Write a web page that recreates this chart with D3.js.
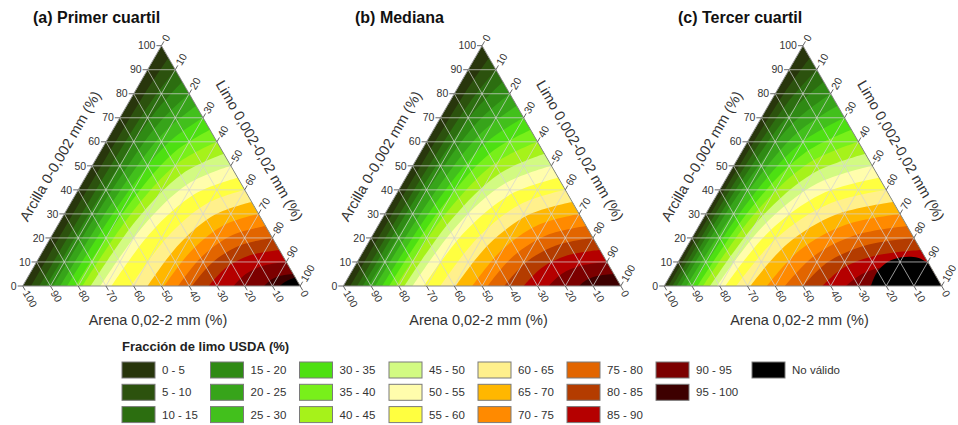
<!DOCTYPE html>
<html><head><meta charset="utf-8">
<script src="https://cdn.jsdelivr.net/npm/d3@7"></script>
<style>
body{margin:0;background:#fff;}
svg{display:block;font-family:"Liberation Sans",Arial,Helvetica,sans-serif;}
</style></head><body>
<svg id="chart" width="958" height="425"></svg>
<script>
// USDA silt fraction classes (5 % steps) and their fills
const bandLabels = ["0 - 5","5 - 10","10 - 15","15 - 20","20 - 25","25 - 30","30 - 35","35 - 40","40 - 45","45 - 50",
  "50 - 55","55 - 60","60 - 65","65 - 70","70 - 75","75 - 80","80 - 85","85 - 90","90 - 95","95 - 100"];
const bandColors = ["#28360c","#2c520e","#2c6e10","#2f8a14","#37a41a","#42c01c","#4de012","#78f01a","#a6f21a","#d2fa82",
  "#fffdac","#ffff40","#fff08c","#ffb700","#ff8a00","#e26500","#b43c00","#b50000","#7c0000","#3d0000"];
const invalidLabel = "No válido";
const invalidColor = "#000000";
const thresholds = [5,10,15,20,25,30,35,40,45,50,55,60,65,70,75,80,85,90,95];
const panelTitles = ["(a) Primer cuartil","(b) Mediana","(c) Tercer cuartil"];
const tickValues = [0,10,20,30,40,50,60,70,80,90,100];
const axisTitles = {clay:"Arcilla 0-0,002 mm (%)", silt:"Limo 0,002-0,02 mm (%)", sand:"Arena 0,02-2 mm (%)"};
const legendTitle = "Fracción de limo USDA (%)";

// Contour lines, one per threshold, as [silt %, clay %] points from the sand-silt edge to the clay-silt edge
const contoursQ1 = [
  [[3,0],[3.27,47.5],[3.95,80.75],[5,95]],
  [[6,0],[6.54,45],[7.89,76.5],[10,90]],
  [[8.5,0],[9.37,42.5],[11.57,72.25],[15,85]],
  [[11,0],[12.21,40],[15.26,68],[20,80]],
  [[13.5,0],[15.04,37.5],[18.94,63.75],[25,75]],
  [[16,0],[17.88,35],[22.62,59.5],[30,70]],
  [[19,0],[21.14,32.5],[26.57,55.25],[35,65]],
  [[21.5,0],[23.98,30],[30.25,51],[40,60]],
  [[24.5,0],[27.25,27.5],[34.2,46.75],[45,55]],
  [[28,0],[30.95,25],[38.41,42.5],[50,50]],
  [[32,0],[35.08,22.5],[42.88,38.25],[55,45]],
  [[39,0],[41.81,20],[48.93,34],[60,40]],
  [[45,0],[47.68,17.5],[54.46,29.75],[65,35]],
  [[51,0],[53.55,15],[59.99,25.5],[70,30]],
  [[56,0],[58.55,12.5],[64.99,21.25],[75,25]],
  [[61,0],[63.55,10],[69.99,17],[80,20]],
  [[67,0],[69.41,7.5],[75.51,12.75],[85,15]],
  [[76,0],[77.88,5],[82.62,8.5],[90,10]],
  [[87,0],[88.07,2.5],[90.78,4.25],[95,5]]
];
const contoursMed = [
  [[2.5,0],[2.83,47.5],[3.68,80.75],[5,95]],
  [[5,0],[5.67,45],[7.36,76.5],[10,90]],
  [[7,0],[8.07,42.5],[10.78,72.25],[15,85]],
  [[9,0],[10.47,40],[14.2,68],[20,80]],
  [[11.5,0],[13.31,37.5],[17.89,63.75],[25,75]],
  [[14,0],[16.14,35],[21.57,59.5],[30,70]],
  [[16.5,0],[18.98,32.5],[25.25,55.25],[35,65]],
  [[19,0],[21.81,30],[28.93,51],[40,60]],
  [[22,0],[25.08,27.5],[32.88,46.75],[45,55]],
  [[25,0],[28.35,25],[36.82,42.5],[50,50]],
  [[29,0],[32.48,22.5],[41.3,38.25],[55,45]],
  [[35,0],[38.35,20],[46.82,34],[60,40]],
  [[40.5,0],[43.78,17.5],[52.09,29.75],[65,35]],
  [[46.5,0],[49.65,15],[57.62,25.5],[70,30]],
  [[52,0],[55.08,12.5],[62.88,21.25],[75,25]],
  [[58,0],[60.95,10],[68.41,17],[80,20]],
  [[65,0],[67.68,7.5],[74.46,12.75],[85,15]],
  [[74,0],[76.14,5],[81.57,8.5],[90,10]],
  [[85,0],[86.34,2.5],[89.73,4.25],[95,5]]
];
const contoursQ3 = [
  [[1.5,0],[1.97,47.5],[3.16,80.75],[5,95]],
  [[3,0],[3.94,45],[6.31,76.5],[10,90]],
  [[4.5,0],[5.91,42.5],[9.47,72.25],[15,85]],
  [[6,0],[7.88,40],[12.62,68],[20,80]],
  [[8,0],[10.28,37.5],[16.04,63.75],[25,75]],
  [[10,0],[12.68,35],[19.46,59.5],[30,70]],
  [[12,0],[15.08,32.5],[22.88,55.25],[35,65]],
  [[14,0],[17.48,30],[26.3,51],[40,60]],
  [[16.5,0],[20.32,27.5],[29.98,46.75],[45,55]],
  [[19,0],[23.15,25],[33.66,42.5],[50,50]],
  [[22,0],[26.42,22.5],[37.61,38.25],[55,45]],
  [[26,0],[30.56,20],[42.08,34],[60,40]],
  [[31,0],[35.56,17.5],[47.08,29.75],[65,35]],
  [[37,0],[41.42,15],[52.61,25.5],[70,30]],
  [[43.5,0],[47.72,12.5],[58.4,21.25],[75,25]],
  [[50,0],[54.02,10],[64.19,17],[80,20]],
  [[57,0],[60.75,7.5],[70.24,12.75],[85,15]],
  [[65.5,0],[68.78,5],[77.09,8.5],[90,10]],
  [[74,0],[76.81,2.5],[83.93,4.25],[95,5]]
];
// Boundary of the non-valid zone next to the silt corner ([silt %, clay %])
const invalidQ1 = [[92.5,0],[94,2],[96.5,3.5]];
const invalidMed = [];
const invalidQ3 = [[74.5,0],[73.8,5.5],[75.5,10],[79.5,12],[85.5,11.8],[90.5,9.5]];

const panels = [
  {title: panelTitles[0], contours: contoursQ1, invalid: invalidQ1, left: 22.7, titleX: 33},
  {title: panelTitles[1], contours: contoursMed, invalid: invalidMed, left: 343.3, titleX: 355},
  {title: panelTitles[2], contours: contoursQ3, invalid: invalidQ3, left: 664.2, titleX: 678}
];

const svg = d3.select("#chart");
const side = 277.5, baseY = 286, triH = side * Math.sqrt(3) / 2;
const cos60 = 0.5, sin60 = Math.sqrt(3) / 2;

panels.forEach((p, i) => {
  const g = svg.append("g");
  const xs = d3.scaleLinear().domain([0, 100]).range([p.left, p.left + side]);
  const ys = d3.scaleLinear().domain([0, 100]).range([baseY, baseY - triH]);
  // [silt, clay] -> screen
  const proj = d => [xs(d[0] + d[1] / 2), ys(d[1])];
  const BL = proj([0, 0]), BR = proj([100, 0]), TOP = proj([0, 100]);

  const clipId = "clip" + i;
  svg.append("defs").append("clipPath").attr("id", clipId)
    .append("path").attr("d", `M${BL}L${BR}L${TOP}Z`);

  const field = g.append("g").attr("clip-path", `url(#${clipId})`);
  field.append("path").attr("d", `M${BL}L${BR}L${TOP}Z`).attr("fill", bandColors[0]);

  const line = d3.line().x(d => proj(d)[0]).y(d => proj(d)[1]).curve(d3.curveCatmullRom.alpha(0.5));
  // each region f >= threshold lies between its contour and the silt corner
  p.contours.forEach((pts, k) => {
    field.append("path")
      .attr("d", line(pts) + `L${BR}Z`)
      .attr("fill", bandColors[k + 1]);
  });
  if (p.invalid.length) {
    field.append("path").attr("d", line(p.invalid) + `L${BR}Z`).attr("fill", invalidColor);
  }

  // 10 % grid
  const grid = g.append("g").attr("stroke", "#d4d4d4").attr("stroke-opacity", 0.8).attr("stroke-width", 0.9).attr("fill", "none");
  d3.range(10, 100, 10).forEach(v => {
    const segs = [
      [[0, v], [100 - v, v]],          // constant clay
      [[v, 0], [v, 100 - v]],          // constant silt
      [[100 - v, 0], [0, 100 - v]]     // constant sand
    ];
    segs.forEach(s => grid.append("line")
      .attr("x1", proj(s[0])[0]).attr("y1", proj(s[0])[1])
      .attr("x2", proj(s[1])[0]).attr("y2", proj(s[1])[1]));
  });

  g.append("path").attr("d", `M${BL}L${BR}L${TOP}Z`).attr("fill", "none")
    .attr("stroke", "#8a8a8a").attr("stroke-width", 1);

  // axes
  const tickLen = 5;
  const axes = g.append("g").attr("font-size", 10.5).attr("fill", "#333");
  tickValues.forEach(v => {
    // clay on the left edge
    let a = proj([0, v]);
    axes.append("line").attr("x1", a[0]).attr("y1", a[1]).attr("x2", a[0] - tickLen).attr("y2", a[1]).attr("stroke", "#666");
    axes.append("text").attr("x", a[0] - tickLen - 1).attr("y", a[1]).attr("dy", "0.35em")
      .attr("text-anchor", "end").text(v);
    // silt on the right edge
    let b = proj([v, 100 - v]);
    let be = [b[0] + tickLen * cos60, b[1] - tickLen * sin60];
    axes.append("line").attr("x1", b[0]).attr("y1", b[1]).attr("x2", be[0]).attr("y2", be[1]).attr("stroke", "#666");
    axes.append("text").attr("transform", `translate(${be[0] + 1 * cos60},${be[1] - 1 * sin60}) rotate(-60)`)
      .attr("dy", "0.35em").attr("text-anchor", "start").text(v);
    // sand on the bottom edge
    let c = proj([100 - v, 0]);
    let ce = [c[0] + tickLen * cos60, c[1] + tickLen * sin60];
    axes.append("line").attr("x1", c[0]).attr("y1", c[1]).attr("x2", ce[0]).attr("y2", ce[1]).attr("stroke", "#666");
    axes.append("text").attr("transform", `translate(${ce[0] + 1 * cos60},${ce[1] + 1 * sin60}) rotate(60)`)
      .attr("dy", "0.35em").attr("text-anchor", "start").text(v);
  });

  const titles = g.append("g").attr("font-size", 14.5).attr("fill", "#333").attr("text-anchor", "middle");
  const lc = proj([0, 47.3]);
  titles.append("text").attr("transform", `translate(${lc[0] - 32.5 * sin60},${lc[1] - 32.5 * cos60}) rotate(-60)`)
    .attr("dy", "0.35em").text(axisTitles.clay);
  const rc = proj([50.4, 49.6]);
  titles.append("text").attr("transform", `translate(${rc[0] + 32.5 * sin60},${rc[1] - 32.5 * cos60}) rotate(60)`)
    .attr("dy", "0.35em").text(axisTitles.silt);
  titles.append("text").attr("x", (BL[0] + BR[0]) / 2 - 3.5).attr("y", 325).text(axisTitles.sand);

  svg.append("text").attr("x", p.titleX).attr("y", 23).attr("font-size", 16).attr("font-weight", "bold")
    .attr("fill", "#111").text(p.title);
});

// legend
const leg = svg.append("g");
leg.append("text").attr("x", 122).attr("y", 351).attr("font-size", 13).attr("font-weight", "bold").attr("fill", "#222").text(legendTitle);
const colX = [122, 210.5, 299.5, 389, 478, 567, 656, 752];
const rowY = [362, 384.3, 406.6];
const legendItems = bandLabels.map((l, k) => ({label: l, color: bandColors[k], col: Math.floor(k / 3), row: k % 3}));
legendItems.push({label: invalidLabel, color: invalidColor, col: 7, row: 0});
legendItems.forEach(it => {
  const x = colX[it.col], y = rowY[it.row];
  leg.append("rect").attr("x", x).attr("y", y).attr("width", 33).attr("height", 16)
    .attr("fill", it.color).attr("stroke", "#7a7a7a").attr("stroke-width", 1);
  leg.append("text").attr("x", x + 40).attr("y", y + 8).attr("dy", "0.35em").attr("font-size", 11.5).attr("fill", "#333").text(it.label);
});
</script>
</body></html>
